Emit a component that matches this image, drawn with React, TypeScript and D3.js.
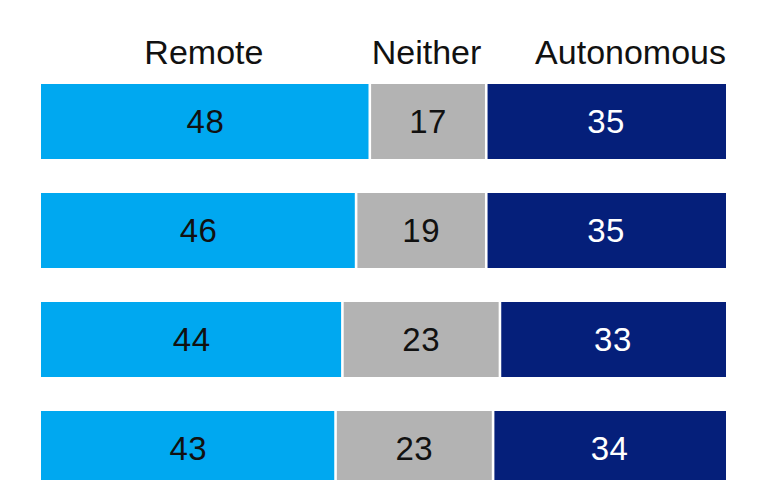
import * as d3 from 'd3'

const rows = ['Row 1', 'Row 2', 'Row 3', 'Row 4']
const categories = ['Remote', 'Neither', 'Autonomous']
const remote = [48, 46, 44, 43]
const neither = [17, 19, 23, 23]
const autonomous = [35, 35, 33, 34]

const colors = ['#00a8f0', '#b3b3b3', '#051f7a']
const textColors = ['#111', '#111', '#fff']

const W = 767
const H = 480
const FONT = '"Liberation Sans", Arial, Helvetica, sans-serif'

export default function App() {
  const x = d3.scaleLinear().domain([0, 100]).range([41, 726])
  const y = d3
    .scaleBand<string>()
    .domain(rows)
    .range([84, 486])
    .paddingInner(34 / 109)
    .paddingOuter(0)

  const table = rows.map((r, i) => ({
    row: r,
    Remote: remote[i],
    Neither: neither[i],
    Autonomous: autonomous[i],
  }))
  const series = d3.stack<any>().keys(categories)(table)

  const first = series.map(s => s[0])
  const gap = 1.3

  return (
    <div style={{ position: 'fixed', left: 0, top: 0 }}>
      <svg width={W} height={H} style={{ display: 'block', background: '#fff' }}>
        {categories.map((c, k) => {
          const seg = first[k]
          const last = k === categories.length - 1
          const cx = last ? x(100) : (x(seg[0]) + x(seg[1])) / 2
          return (
            <text
              key={c}
              x={last ? cx : cx - 1.5}
              y={64}
              textAnchor={last ? 'end' : 'middle'}
              fontFamily={FONT}
              fontSize={34}
              fill="#111"
            >
              {c}
            </text>
          )
        })}
        {series.map((s, k) => (
          <g key={categories[k]}>
            {s.map((d, i) => {
              const x0 = x(d[0]) + (k > 0 ? gap : 0)
              const x1 = x(d[1]) - (k < categories.length - 1 ? gap : 0)
              const yy = y(rows[i])!
              const bh = y.bandwidth()
              return (
                <g key={rows[i]}>
                  <rect x={x0} y={yy} width={x1 - x0} height={bh} fill={colors[k]} />
                  <text
                    x={(x(d[0]) + x(d[1])) / 2}
                    y={yy + bh / 2 + 11.5}
                    textAnchor="middle"
                    fontFamily={FONT}
                    fontSize={33}
                    letterSpacing={0.5}
                    fill={textColors[k]}
                  >
                    {d[1] - d[0]}
                  </text>
                </g>
              )
            })}
          </g>
        ))}
      </svg>
    </div>
  )
}
